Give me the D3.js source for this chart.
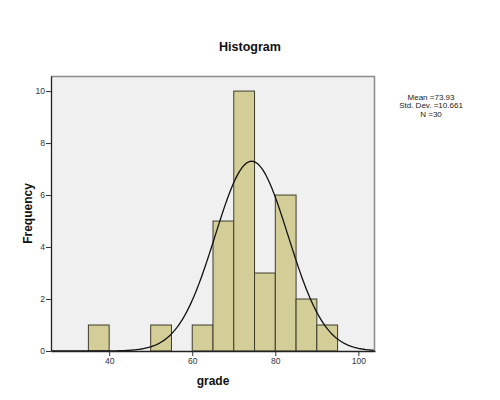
<!DOCTYPE html>
<html>
<head>
<meta charset="utf-8">
<script src="https://cdn.jsdelivr.net/npm/d3@7"></script>
<style>
  html, body { margin: 0; padding: 0; background: #fff; }
  svg text { font-family: "Liberation Sans", Arial, sans-serif; }
</style>
</head>
<body>
<svg id="chart" width="500" height="400"></svg>
<script>
// Data
const binStarts = [35, 50, 60, 65, 70, 75, 80, 85, 90];
const binWidth = 5;
const counts = [1, 1, 1, 5, 10, 3, 6, 2, 1];
const xTicks = [40, 60, 80, 100];
const yTicks = [0, 2, 4, 6, 8, 10];
const statLines = ["Mean =73.93", "Std. Dev. =10.661", "N =30"];
// fitted normal curve as drawn (center, spread, peak height)
const curveMean = 74.3;
const curveSD = 8.8;
const curvePeak = 7.3;

(function () {
const svg = d3.select("#chart");
const pL = 51, pR = 375, pT = 76, pB = 351;

const x = d3.scaleLinear().domain([26, 104]).range([pL, pR]);
const y = d3.scaleLinear().domain([0, 10.58]).range([pB, pT]);

// plot background
svg.append("rect")
  .attr("x", pL).attr("y", pT)
  .attr("width", pR - pL).attr("height", pB - pT)
  .attr("fill", "#f0f0f0");

// bars
svg.append("g").selectAll("rect")
  .data(binStarts.map((s, i) => ({ s, c: counts[i] })))
  .join("rect")
  .attr("x", d => x(d.s))
  .attr("y", d => y(d.c))
  .attr("width", d => x(d.s + binWidth) - x(d.s))
  .attr("height", d => y(0) - y(d.c))
  .attr("fill", "#d3ce97")
  .attr("stroke", "#3e3c2c")
  .attr("stroke-width", 1);

// normal curve
svg.append("clipPath").attr("id", "clip")
  .append("rect").attr("x", pL).attr("y", pT)
  .attr("width", pR - pL).attr("height", pB - pT);
const pts = d3.range(26, 104.01, 0.25).map(v => [v, curvePeak * Math.exp(-0.5 * Math.pow((v - curveMean) / curveSD, 2))]);
svg.append("path")
  .datum(pts)
  .attr("clip-path", "url(#clip)")
  .attr("fill", "none")
  .attr("stroke", "#111")
  .attr("stroke-width", 1.3)
  .attr("d", d3.line().x(d => x(d[0])).y(d => y(d[1])));

// frame top/right
svg.append("path")
  .attr("d", `M${pL},${pT + 0.5}H${pR - 0.5}V${pB}`)
  .attr("fill", "none").attr("stroke", "#8a8a8a").attr("stroke-width", 1.5);

// axes
const xAxis = d3.axisBottom(x).tickValues(xTicks).tickSizeInner(5).tickSizeOuter(0).tickPadding(2).tickFormat(d3.format("d"));
const gx = svg.append("g").attr("transform", `translate(0,${pB})`).call(xAxis);
const yAxis = d3.axisLeft(y).tickValues(yTicks).tickSizeInner(5).tickSizeOuter(0).tickPadding(1).tickFormat(d3.format("d"));
const gy = svg.append("g").attr("transform", `translate(${pL},0)`).call(yAxis);
[gx, gy].forEach(g => {
  g.select(".domain").attr("stroke", "#222").attr("stroke-width", 1.3);
  g.selectAll(".tick line").attr("stroke", "#333");
  g.selectAll(".tick text").attr("fill", "#333").style("font-size", "8.5px")
    .style("font-family", "'Liberation Sans', Arial, sans-serif");
});

// title
svg.append("text").attr("x", 250).attr("y", 51)
  .attr("text-anchor", "middle").attr("font-weight", "bold")
  .attr("font-size", "12.5px").attr("fill", "#111").text("Histogram");

// axis titles
svg.append("text").attr("x", (pL + pR) / 2).attr("y", 385)
  .attr("text-anchor", "middle").attr("font-weight", "bold")
  .attr("font-size", "12px").attr("fill", "#111").text("grade");
svg.append("text")
  .attr("transform", `translate(32,${(pT + pB) / 2}) rotate(-90)`)
  .attr("text-anchor", "middle").attr("font-weight", "bold")
  .attr("font-size", "12px").attr("fill", "#111").text("Frequency");

// stats
svg.append("g").selectAll("text")
  .data(statLines).join("text")
  .attr("x", 431).attr("y", (d, i) => 99.5 + i * 8.5)
  .attr("text-anchor", "middle").attr("font-size", "8px").attr("fill", "#222")
  .text(d => d);
})();
</script>
</body>
</html>
